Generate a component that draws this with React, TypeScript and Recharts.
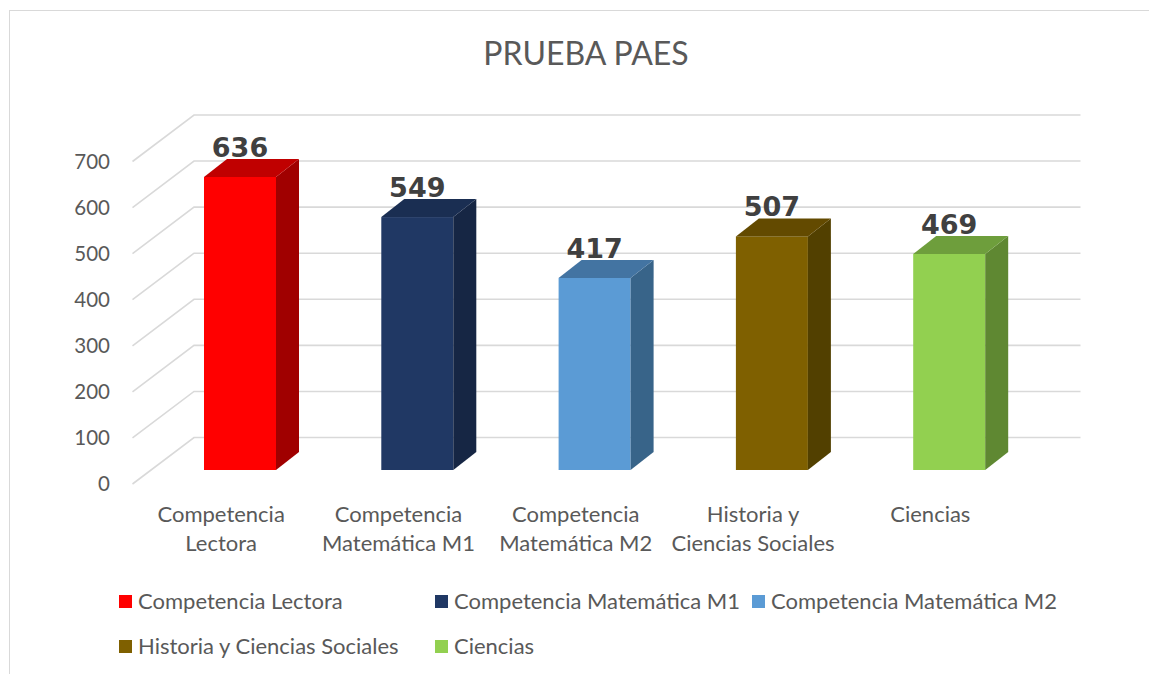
import React from "react";
import { BarChart, Bar, XAxis, YAxis, CartesianGrid, LabelList } from "recharts";

const CATEGORIES = [
  "Competencia Lectora",
  "Competencia Matemática M1",
  "Competencia Matemática M2",
  "Historia y Ciencias Sociales",
  "Ciencias",
];
const SCORES = [636, 549, 417, 507, 469];
const CATEGORY_LINES = [
  ["Competencia", "Lectora"],
  ["Competencia", "Matemática M1"],
  ["Competencia", "Matemática M2"],
  ["Historia y", "Ciencias Sociales"],
  ["Ciencias"],
];
const Y_TICKS = [0, 100, 200, 300, 400, 500, 600, 700];

const FRONT_COLORS = ["#FF0000", "#203864", "#5B9BD5", "#7F6000", "#92D050"];
const TOP_COLORS = ["#C00000", "#1A2E52", "#4374A2", "#634A00", "#6E9E3C"];
const SIDE_COLORS = ["#A00000", "#162644", "#386489", "#524000", "#5F8832"];

const TEXT = "#595959";
const GRID = "#D9D9D9";
const FONT = "Lato, 'Open Sans', sans-serif";

// perspective offsets (px) for the fake 3D
const DEPTH_X = 23;
const DEPTH_Y = 18;
const WALL_X = 43;
const WALL_Y = 32.5;
const FRONT_X = 18.5;
const FRONT_Y = 14;

const data = CATEGORIES.map((name, i) => ({
  name,
  score: SCORES[i],
  front: FRONT_COLORS[i],
  top: TOP_COLORS[i],
  side: SIDE_COLORS[i],
}));

const Bar3D = (props: any) => {
  const { x, y, width, height, payload } = props;
  const r = x + width;
  const b = y + height;
  return (
    <g>
      <rect x={x} y={y} width={width} height={height} fill={payload.front} />
      <polygon
        points={`${r},${y} ${r + DEPTH_X},${y - DEPTH_Y} ${r + DEPTH_X},${b - DEPTH_Y} ${r},${b}`}
        fill={payload.side}
      />
      <polygon
        points={`${x},${y} ${x + DEPTH_X},${y - DEPTH_Y} ${r + DEPTH_X},${y - DEPTH_Y} ${r},${y}`}
        fill={payload.top}
      />
    </g>
  );
};

const gridLine = (p: any) => {
  const { x1, x2, y1 } = p;
  const d = `M${x1 - FRONT_X},${y1 + FRONT_Y} L${x1 + WALL_X},${y1 - WALL_Y} L${x2 + WALL_X},${y1 - WALL_Y}`;
  return <path key={`grid-${y1}`} d={d} fill="none" stroke={GRID} strokeWidth={1.6} />;
};

const YTick = (props: any) => {
  const { x, y, payload } = props;
  return (
    <text x={x - 33} y={y + FRONT_Y} dy="0.36em" textAnchor="end" fill={TEXT} fontSize={20.5} fontFamily={FONT}>
      {payload.value}
    </text>
  );
};

const XTick = (props: any) => {
  const { x, y, index } = props;
  const lines = CATEGORY_LINES[index] || [];
  return (
    <text x={x - FRONT_X} y={y} textAnchor="middle" fill={TEXT} fontSize={22} fontFamily={FONT}>
      {lines.map((l, i) => (
        <tspan key={i} x={x - FRONT_X} dy={i === 0 ? 44 : 28.5}>
          {l}
        </tspan>
      ))}
    </text>
  );
};

const ValueLabel = (props: any) => {
  const { x, y, width, value } = props;
  return (
    <text
      x={x + width / 2}
      y={y - 20}
      textAnchor="middle"
      fill="#404040"
      fontSize={27}
      fontWeight="bold"
      fontFamily="'DejaVu Sans', sans-serif"
    >
      {value}
    </text>
  );
};

const LEGEND_COLS = [119, 435, 752];

export default function App() {
  return (
    <div
      style={{
        position: "absolute",
        left: 0,
        top: 0,
        width: 1149,
        height: 674,
        overflow: "hidden",
        background: "#fff",
      }}
    >
      <div
        style={{
          position: "absolute",
          left: 9,
          top: 10,
          width: 1200,
          height: 700,
          borderLeft: `1.5px solid ${GRID}`,
          borderTop: `1.5px solid ${GRID}`,
        }}
      />
      <div
        style={{
          position: "absolute",
          left: 0,
          width: 1172,
          top: 33,
          textAlign: "center",
          fontFamily: FONT,
          fontSize: 32,
          color: TEXT,
          lineHeight: "40px",
        }}
      >
        PRUEBA PAES
      </div>
      <div style={{ position: "absolute", left: 0, top: 0 }}>
        <BarChart
          width={1149}
          height={674}
          data={data}
          margin={{ top: 147.5, right: 111.5, bottom: 104, left: 91 }}
        >
          <CartesianGrid vertical={false} horizontal={gridLine} />
          <XAxis dataKey="name" axisLine={false} tickLine={false} interval={0} height={100} tick={<XTick />} />
          <YAxis
            domain={[0, 700]}
            ticks={Y_TICKS}
            axisLine={false}
            tickLine={false}
            width={60}
            tick={<YTick />}
          />
          <Bar dataKey="score" barSize={72} shape={<Bar3D />} isAnimationActive={false}>
            <LabelList dataKey="score" content={<ValueLabel />} />
          </Bar>
        </BarChart>
      </div>
      {CATEGORIES.map((name, i) => {
        const row = i < 3 ? 0 : 1;
        const col = i < 3 ? i : i - 3;
        return (
          <div
            key={name}
            style={{
              position: "absolute",
              left: LEGEND_COLS[col],
              top: 587 + row * 45,
              display: "flex",
              alignItems: "center",
              fontFamily: FONT,
              fontSize: 22,
              color: TEXT,
              lineHeight: "28px",
              whiteSpace: "nowrap",
            }}
          >
            <span style={{ width: 13, height: 13, background: FRONT_COLORS[i], marginRight: 6 }} />
            {name}
          </div>
        );
      })}
    </div>
  );
}
